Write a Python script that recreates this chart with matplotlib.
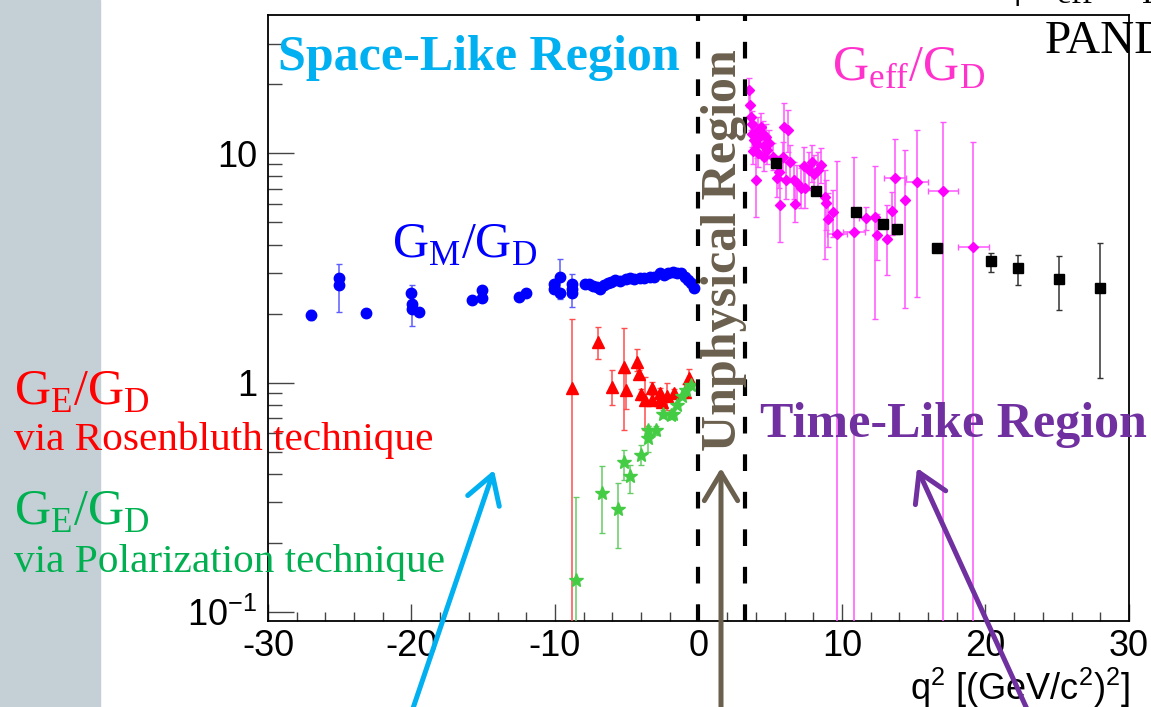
import matplotlib.pyplot as plt
from matplotlib.patches import Rectangle, FancyArrowPatch
from matplotlib.ticker import FixedLocator, MultipleLocator, NullFormatter

plt.rcParams['font.family'] = ['Liberation Sans', 'DejaVu Sans']
plt.rcParams['mathtext.fontset'] = 'custom'
plt.rcParams['mathtext.rm'] = 'Liberation Serif'
plt.rcParams['mathtext.sf'] = 'Liberation Sans'
plt.rcParams['axes.unicode_minus'] = False

# G_M/G_D, space-like region
gm_q2 = [-27.0, -25.05, -25.05, -23.2, -20.04, -19.95, -19.95, -19.5, -15.75, -15.08,
         -15.08, -12.5, -12.0, -10.05, -10.05, -9.62, -9.62, -8.81, -8.81, -8.81,
         -7.93, -7.6, -7.35, -7.1, -6.89, -6.6, -6.31, -6.1, -5.85, -5.5,
         -5.08, -4.8, -4.5, -4.1, -3.8, -3.41, -3.1, -2.71, -2.4, -2.1,
         -1.79, -1.5, -1.2, -0.95, -0.74, -0.5, -0.28]
gm_val = [1.97, 2.86, 2.66, 2.02, 2.46, 2.21, 2.10, 2.03, 2.29, 2.33,
          2.53, 2.36, 2.45, 2.69, 2.55, 2.89, 2.47, 2.70, 2.55, 2.45,
          2.70, 2.68, 2.65, 2.62, 2.55, 2.66, 2.73, 2.75, 2.80, 2.78,
          2.83, 2.85, 2.82, 2.87, 2.86, 2.90, 2.88, 3.00, 2.95, 3.02,
          3.05, 3.02, 3.00, 2.90, 2.80, 2.72, 2.60]
gm_err = [0.10, 0.06, 0.62, 0.08, 0.06, 0.45, 0.06, 0.05, 0.05, 0.05,
          0.06, 0.05, 0.05, 0.06, 0.06, 0.58, 0.06, 0.05, 0.42, 0.05,
          0.04, 0.04, 0.04, 0.04, 0.04, 0.04, 0.04, 0.04, 0.04, 0.04,
          0.04, 0.04, 0.04, 0.04, 0.04, 0.04, 0.04, 0.04, 0.04, 0.04,
          0.04, 0.04, 0.04, 0.04, 0.04, 0.04, 0.04]

# G_E/G_D, Rosenbluth separation
ger_q2 = [-8.81, -6.99, -6.01, -5.22, -5.03, -4.26, -4.15, -4.04, -3.76, -3.23,
          -3.23, -2.67, -2.67, -2.53, -2.2, -1.74, -0.93, -0.63]
ger_val = [0.95, 1.50, 0.96, 1.17, 0.93, 1.23, 1.09, 0.89, 0.84, 0.95,
           0.84, 0.90, 0.84, 0.82, 0.87, 0.90, 0.91, 1.05]
ger_lo = [0.90, 0.23, 0.16, 0.55, 0.16, 0.11, 0.05, 0.05, 0.22, 0.055,
          0.04, 0.05, 0.04, 0.04, 0.11, 0.04, 0.05, 0.10]
ger_hi = [0.94, 0.25, 0.17, 0.56, 0.17, 0.17, 0.05, 0.05, 0.22, 0.055,
          0.04, 0.05, 0.04, 0.04, 0.13, 0.04, 0.08, 0.10]

# G_E/G_D, polarization transfer
gep_q2 = [-8.51, -6.75, -5.59, -5.2, -4.8, -3.99, -3.52, -3.52, -2.94, -2.44,
          -1.9, -1.79, -1.51, -1.16, -0.86, -0.51]
gep_val = [0.138, 0.329, 0.280, 0.448, 0.390, 0.485, 0.573, 0.619, 0.619, 0.732,
           0.725, 0.732, 0.800, 0.871, 0.932, 0.973]
gep_lo = [0.09, 0.108, 0.090, 0.073, 0.060, 0.050, 0.075, 0.03, 0.03, 0.03,
          0.03, 0.03, 0.02, 0.02, 0.02, 0.02]
gep_hi = [0.18, 0.103, 0.086, 0.058, 0.045, 0.050, 0.075, 0.03, 0.03, 0.03,
          0.03, 0.03, 0.02, 0.02, 0.02, 0.02]

# G_eff/G_D, time-like region
geff_q2 = [3.55, 3.62, 3.66, 3.70, 3.74, 3.78, 3.85, 3.90, 4.01, 4.05,
           4.13, 4.13, 4.25, 4.36, 4.47, 4.55, 4.59, 4.71, 4.80, 4.94,
           5.20, 5.44, 5.63, 5.70, 5.86, 5.98, 6.11, 6.26, 6.39, 6.63,
           6.75, 6.87, 7.15, 7.33, 7.45, 7.72, 7.88, 8.07, 8.30, 8.54,
           8.82, 8.88, 9.00, 9.39, 9.62, 10.84, 11.66, 12.30, 12.41, 13.13,
           13.48, 13.71, 14.36, 15.20, 17.06, 19.15]
geff_val = [18.9, 16.3, 14.4, 13.5, 12.2, 10.3, 12.0, 11.4, 7.65, 11.0,
            12.6, 10.0, 11.8, 13.1, 12.2, 10.8, 9.67, 11.8, 10.4, 11.1,
            9.67, 7.78, 8.30, 5.95, 9.67, 13.1, 7.65, 12.6, 9.14, 7.65,
            6.00, 7.40, 7.10, 8.83, 7.10, 8.45, 9.14, 8.17, 8.45, 8.90,
            6.46, 6.05, 5.20, 5.53, 4.44, 4.52, 5.25, 5.29, 4.42, 4.25,
            5.60, 7.82, 6.25, 7.52, 6.87, 3.89]
geff_lo = [3.0, 2.0, 1.8, 1.6, 1.5, 1.3, 1.5, 1.4, 2.35, 1.4,
           1.6, 1.3, 1.5, 1.7, 1.5, 1.4, 1.3, 1.5, 1.4, 1.4,
           1.2, 1.3, 1.2, 1.85, 1.4, 3.4, 1.3, 2.5, 1.6, 1.3,
           1.0, 1.3, 1.3, 1.6, 1.3, 1.5, 1.6, 1.5, 1.5, 1.5,
           3.0, 1.4, 1.3, 1.2, 4.39, 4.47, 0.6, 3.4, 1.0, 1.3,
           1.2, 3.0, 4.13, 5.15, 6.82, 3.84]
geff_hi = [2.4, 2.2, 2.0, 1.8, 1.7, 1.5, 1.7, 1.6, 3.45, 1.6,
           1.8, 1.5, 1.7, 1.9, 1.7, 1.6, 1.5, 1.7, 1.6, 1.6,
           1.4, 1.5, 1.4, 3.1, 1.6, 3.5, 1.5, 2.9, 1.8, 1.5,
           1.5, 1.5, 1.5, 1.8, 1.5, 1.7, 1.8, 1.7, 1.7, 1.7,
           2.0, 1.6, 1.5, 1.4, 4.8, 5.15, 0.6, 3.5, 1.0, 1.7,
           1.2, 3.8, 4.15, 5.2, 6.9, 7.3]
geff_xerr = [0, 0, 0, 0, 0, 0, 0, 0, 0, 0,
             0, 0, 0, 0, 0, 0, 0, 0, 0, 0,
             0, 0, 0, 0, 0, 0, 0, 0, 0, 0,
             0, 0, 0, 0, 0, 0, 0, 0, 0, 0,
             0, 0, 0, 0, 0.7, 0.75, 0.5, 0, 0, 0,
             0, 0.75, 0, 0.8, 1.05, 1.1]

# older time-like measurements
bk_q2 = [5.38, 8.19, 11.0, 12.83, 13.83, 16.6, 20.37, 22.27, 25.1, 27.95]
bk_val = [9.04, 6.87, 5.56, 4.91, 4.66, 3.85, 3.40, 3.15, 2.82, 2.59]
bk_lo = [0.3, 0.3, 0.2, 0.2, 0.2, 0.15, 0.36, 0.49, 0.74, 1.54]
bk_hi = [0.3, 0.3, 0.2, 0.2, 0.2, 0.15, 0.29, 0.45, 0.74, 1.48]

# physical threshold lines, q^2 = 0 and q^2 = 4 m_p^2
thresholds = [0.0, 3.25]

W, H = 1151, 707


def fx(px):
    return px / W


def fy(py):
    return 1 - py / H


fig = plt.figure(figsize=(W / 100, H / 100), dpi=100)
fig.patches.append(Rectangle((0, 0), fx(100), 1, transform=fig.transFigure,
                             color='#c5d0d6', zorder=0))

ax = fig.add_axes([fx(268), fy(621), fx(1129) - fx(268), fy(15) - fy(621)])
ax.set_xlim(-30, 30)
ax.set_yscale('log')
ax.set_ylim(0.0911, 40.2)

ax.errorbar(gm_q2, gm_val, yerr=gm_err, fmt='o', ms=7.5, color='#0000ff',
            ecolor='#5c5cff', elinewidth=1.1, capsize=2.5, zorder=4)
ax.errorbar(ger_q2, ger_val, yerr=[ger_lo, ger_hi], fmt='^', ms=9, color='#ff0000',
            ecolor='#ff4d4d', elinewidth=1.1, capsize=2.5, zorder=4)
ax.errorbar(gep_q2, gep_val, yerr=[gep_lo, gep_hi], fmt='*', ms=10, color='#44cc44',
            ecolor='#66cc66', elinewidth=1.1, capsize=2.5, zorder=4)
ax.errorbar(geff_q2, geff_val, yerr=[geff_lo, geff_hi], xerr=geff_xerr, fmt='D',
            ms=5, color='#ff00ff', ecolor='#ff55ff', elinewidth=1.1, capsize=2.5,
            zorder=3)
ax.errorbar(bk_q2, bk_val, yerr=[bk_lo, bk_hi], fmt='s', ms=6.5, color='k',
            ecolor='#333333', elinewidth=1.1, capsize=2.5, zorder=5)

for t in thresholds:
    ax.axvline(t, color='k', lw=3, ls=(0, (4, 5)), zorder=6)

# axis ticks, ROOT style
ax.xaxis.set_major_locator(MultipleLocator(10))
ax.xaxis.set_minor_locator(MultipleLocator(2))
ax.yaxis.set_major_locator(FixedLocator([0.1, 1, 10]))
ax.yaxis.set_minor_locator(FixedLocator([0.2, 0.3, 0.4, 0.5, 0.6, 0.7, 0.8, 0.9,
                                         2, 3, 4, 5, 6, 7, 8, 9, 20, 30]))
ax.yaxis.set_minor_formatter(NullFormatter())
ax.set_yticklabels(['10$^{\\mathsf{-1}}$', '1', '10'])
ax.tick_params(axis='both', which='both', direction='in', top=False, right=False,
               labelsize=26, color='#444444', width=1)
ax.tick_params(axis='x', which='major', length=12, pad=6)
ax.tick_params(axis='x', which='minor', length=6.5)
ax.tick_params(axis='y', which='major', length=19, pad=8)
ax.tick_params(axis='y', which='minor', length=10)
for s in ax.spines.values():
    s.set_linewidth(1.3)

fig.text(fx(1130), fy(700), 'q$^{\\mathsf{2}}$ [(GeV/c$^{\\mathsf{2}}$)$^{\\mathsf{2}}$]',
         ha='right', va='baseline', fontsize=26)

serif = 'Liberation Serif'
fig.text(fx(278), fy(70), 'Space-Like Region', fontsize=36, fontweight='bold',
         family=serif, color='#00b0f0', va='baseline')
fig.text(fx(760), fy(437), 'Time-Like Region', fontsize=36, fontweight='bold',
         family=serif, color='#7030a0', va='baseline')
fig.text(fx(724), fy(250), 'Unphysical Region', fontsize=36, fontweight='bold',
         family=serif, color='#6b604e', rotation=90, ha='center', va='center')

fig.text(fx(392), fy(258), 'G$_{\\rm M}$/G$_{\\rm D}$', fontsize=36, family=serif,
         color='#0000ff', va='baseline')
fig.text(fx(832), fy(80), 'G$_{\\rm eff}$/G$_{\\rm D}$', fontsize=36, family=serif,
         color='#ff33cc', va='baseline')
fig.text(fx(1012), fy(-4), '|G$_{\\rm eff}$/G$_{\\rm D}$|', fontsize=34, family=serif,
         color='k', va='baseline')
fig.text(fx(1045), fy(53), 'PANDA', fontsize=34, family=serif, color='k',
         va='baseline')

fig.text(fx(14), fy(405), 'G$_{\\rm E}$/G$_{\\rm D}$', fontsize=36, family=serif,
         color='#ff0000', va='baseline')
fig.text(fx(14), fy(450), 'via Rosenbluth technique', fontsize=29.7, family=serif,
         color='#ff0000', va='baseline')
fig.text(fx(14), fy(525), 'G$_{\\rm E}$/G$_{\\rm D}$', fontsize=36, family=serif,
         color='#00b050', va='baseline')
fig.text(fx(14), fy(572), 'via Polarization technique', fontsize=29.7, family=serif,
         color='#00b050', va='baseline')

# arrows pointing at the three regions
arrows = [((409, 720), (494, 470), '#00b0f0'),
          ((721, 720), (721, 468), '#6b604e'),
          ((1032, 720), (917, 468), '#7030a0')]
for (x0, y0), (x1, y1), c in arrows:
    fig.add_artist(FancyArrowPatch((fx(x0), fy(y0)), (fx(x1), fy(y1)),
                                   transform=fig.transFigure,
                                   arrowstyle='->,head_length=0.5,head_width=0.3',
                                   mutation_scale=40, lw=3.6, color=c,
                                   shrinkA=0, shrinkB=0, zorder=7))

fig.savefig('out.png', dpi=100)
